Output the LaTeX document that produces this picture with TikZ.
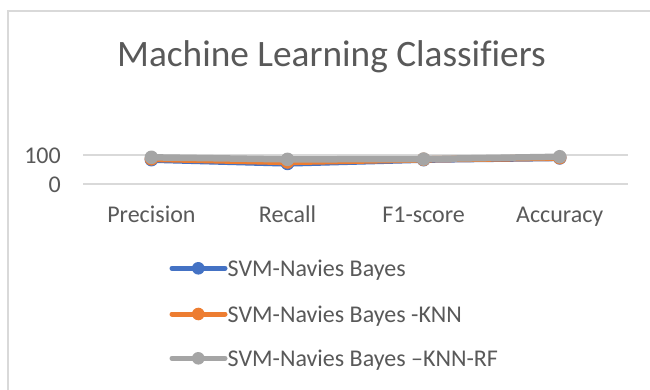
\documentclass[tikz,border=0pt]{standalone}
\usepackage{fontspec}
\setmainfont{Carlito}[Ligatures={TeX,NoCommon}]
\definecolor{txt}{HTML}{595959}
\definecolor{gridc}{HTML}{D9D9D9}
\definecolor{serblue}{HTML}{4472C4}
\definecolor{serorange}{HTML}{ED7D31}
\definecolor{sergray}{HTML}{A5A5A5}
\tikzset{
  series/.style={line width=6.5pt, line join=round, line cap=round},
  legline/.style={line width=5pt, line cap=round},
  lbl/.style={text=txt, inner sep=0pt, font=\fontsize{24}{28}\selectfont},
  titlelbl/.style={text=txt, inner sep=0pt, font=\fontsize{37.3}{44}\selectfont},
  gridline/.style={draw=gridc, line width=1.6pt},
}
\begin{document}
\begin{tikzpicture}[x=1pt,y=-1pt]
\useasboundingbox (0,0) rectangle (650,389);
\clip (0,0) rectangle (650,389);
\fill[white] (0,0) rectangle (650,389);
% frame
\draw[gridc, line width=2pt] (7.8,400) -- (7.8,10.5) -- (660,10.5);
% title
\node[titlelbl, anchor=base] (title) at (331.5,66.7) {Machine Learning Classifiers};
% grid
\coordinate (g100l) at (83.3,155);
\coordinate (g100r) at (627.7,155);
\coordinate (g0l) at (83.3,184);
\coordinate (g0r) at (627.7,184);
\draw[gridline] (g100l) -- (g100r);
\draw[gridline] (g0l) -- (g0r);
\node[lbl, anchor=base east] (t100) at (61,163.5) {100};
\node[lbl, anchor=base east] (t0) at (61,192.5) {0};
% categories
\node[lbl, anchor=base] (c1) at (151.4,222.3) {Precision};
\node[lbl, anchor=base] (c2) at (287.5,222.3) {Recall};
\node[lbl, anchor=base] (c3) at (423.6,222.3) {F1-score};
\node[lbl, anchor=base] (c4) at (559.7,222.3) {Accuracy};
% data points
\def\yv#1{184-0.29*#1}
\coordinate (b1) at (151.4,{\yv{84}});
\coordinate (b2) at (287.5,{\yv{71}});
\coordinate (b3) at (423.6,{\yv{84}});
\coordinate (b4) at (559.7,{\yv{90}});
\coordinate (o1) at (151.4,{\yv{87}});
\coordinate (o2) at (287.5,{\yv{76}});
\coordinate (o3) at (423.6,{\yv{85}});
\coordinate (o4) at (559.7,{\yv{91}});
\coordinate (s1) at (151.4,{\yv{92}});
\coordinate (s2) at (287.5,{\yv{85}});
\coordinate (s3) at (423.6,{\yv{86}});
\coordinate (s4) at (559.7,{\yv{94}});
\draw[series, serblue] (b1) -- (b2) -- (b3) -- (b4);
\foreach \p in {b1,b2,b3,b4} \fill[serblue] (\p) circle (6.8);
\draw[series, serorange] (o1) -- (o2) -- (o3) -- (o4);
\foreach \p in {o1,o2,o3,o4} \fill[serorange] (\p) circle (6.8);
\draw[series, sergray] (s1) -- (s2) -- (s3) -- (s4);
\foreach \p in {s1,s2,s3,s4} \fill[sergray] (\p) circle (6.8);
% legend
\coordinate (l1a) at (172,268.3); \coordinate (l1b) at (225,268.3); \coordinate (l1m) at (198.3,268.3);
\coordinate (l2a) at (172,314); \coordinate (l2b) at (225,314); \coordinate (l2m) at (198.3,314);
\coordinate (l3a) at (172,358.3); \coordinate (l3b) at (225,358.3); \coordinate (l3m) at (198.3,358.3);
\draw[legline, serblue] (l1a) -- (l1b); \fill[serblue] (l1m) circle (6.3);
\draw[legline, serorange] (l2a) -- (l2b); \fill[serorange] (l2m) circle (6.3);
\draw[legline, sergray] (l3a) -- (l3b); \fill[sergray] (l3m) circle (6.3);
\node[lbl, anchor=base west] (e1) at (227.5,276.3) {SVM-Navies Bayes};
\node[lbl, anchor=base west] (e2) at (227.5,322) {SVM-Navies Bayes -KNN};
\node[lbl, anchor=base west] (e3) at (227.5,366.3) {SVM-Navies Bayes –KNN-RF};
\end{tikzpicture}
\end{document}
